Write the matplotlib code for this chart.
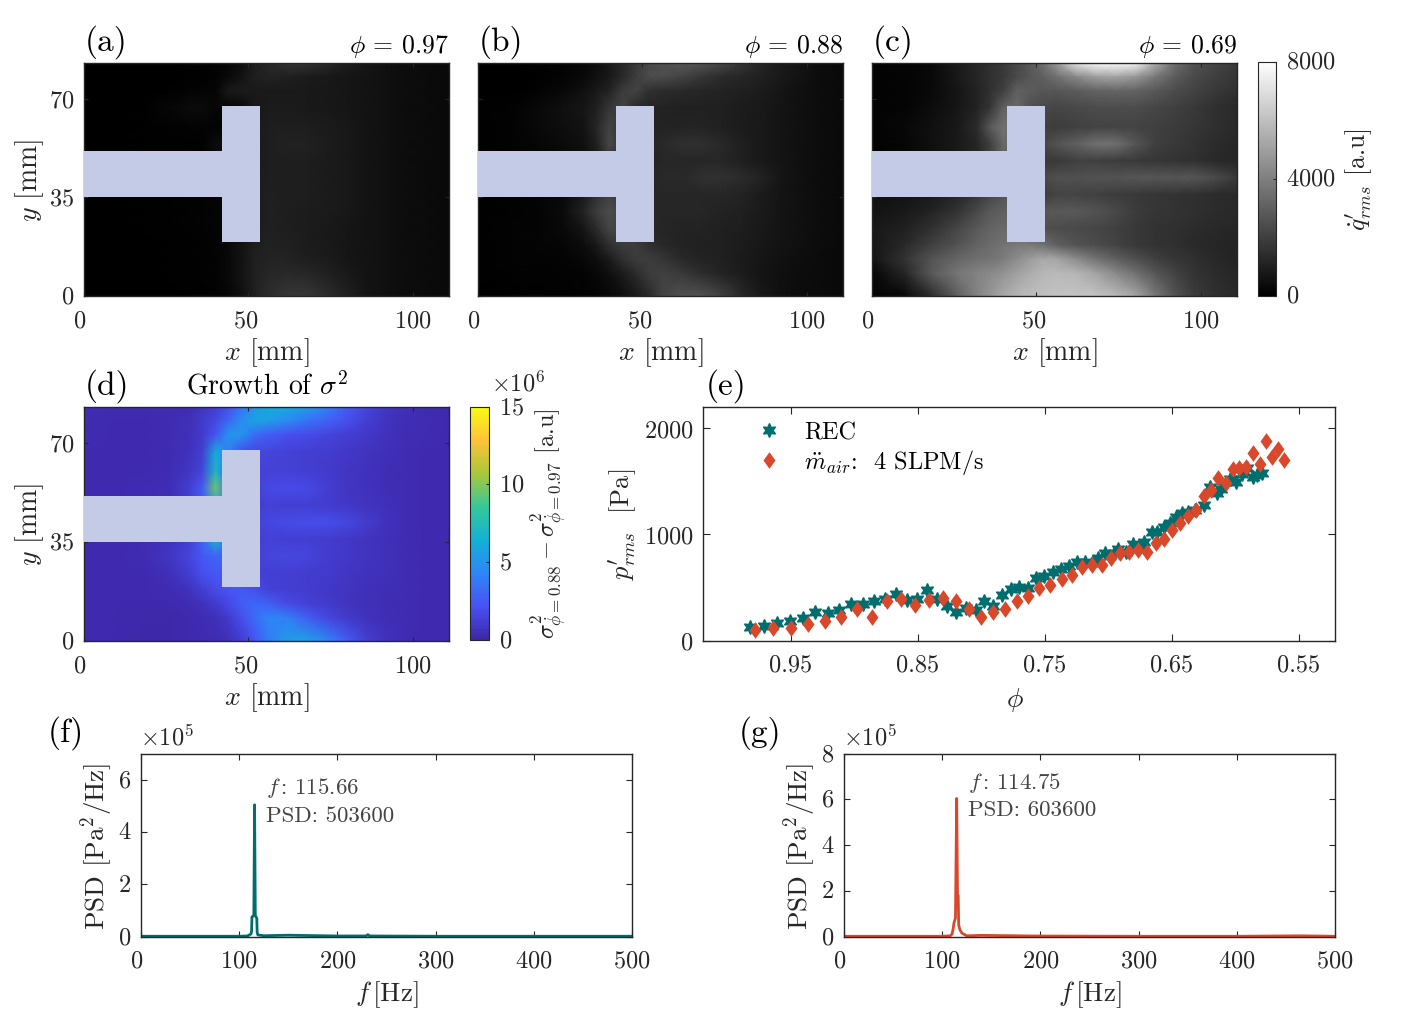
import numpy as np
import matplotlib
matplotlib.use('Agg')
import matplotlib.pyplot as plt
from matplotlib.colors import LinearSegmentedColormap
from matplotlib.patches import Rectangle
from matplotlib.path import Path
from matplotlib.transforms import ScaledTranslation

plt.rcParams['font.family'] = ['cmr10', 'DejaVu Serif']
plt.rcParams['mathtext.fontset'] = 'cm'
plt.rcParams['axes.formatter.use_mathtext'] = True
plt.rcParams['axes.unicode_minus'] = False

W, H = 1406, 1020
DARK = '#262626'
TEAL = '#006d6f'
RED = '#d9482b'
BLOCK = '#c3cbe6'
FS = 17.5

# grid of the maps in mm
grid_x = [0, 10, 18, 26, 32, 36, 40, 44, 48, 52, 56, 62, 68, 74, 80, 86, 92, 98, 104, 111]
grid_y = [83, 78, 73, 67, 60, 54, 48, 42, 36, 30, 24, 18, 13, 8, 0]

q_a = [
    [20, 20, 20, 30, 40, 60, 80, 200, 400, 900, 1200, 1600, 1600, 1300, 900, 700, 500, 400, 350, 300],
    [20, 20, 20, 30, 40, 60, 100, 300, 600, 1000, 1100, 1000, 900, 800, 700, 600, 500, 400, 350, 300],
    [20, 20, 30, 50, 100, 150, 200, 800, 900, 800, 800, 800, 800, 750, 700, 600, 500, 400, 350, 300],
    [20, 30, 50, 200, 350, 350, 200, 200, 300, 800, 850, 850, 800, 750, 700, 600, 500, 400, 350, 300],
    [20, 30, 50, 80, 100, 100, 120, 200, 400, 850, 950, 950, 950, 850, 750, 600, 500, 400, 350, 300],
    [20, 30, 40, 50, 60, 80, 400, 500, 600, 850, 950, 1050, 1050, 900, 750, 600, 500, 400, 350, 300],
    [20, 30, 40, 50, 60, 80, 200, 400, 600, 850, 950, 950, 950, 850, 750, 600, 500, 400, 350, 300],
    [20, 30, 40, 50, 60, 80, 200, 400, 600, 900, 950, 950, 950, 850, 750, 600, 500, 400, 350, 300],
    [30, 30, 40, 50, 80, 100, 150, 300, 600, 900, 1000, 950, 950, 850, 750, 600, 500, 400, 350, 300],
    [30, 30, 40, 50, 80, 100, 150, 300, 600, 900, 1000, 950, 900, 850, 750, 600, 500, 400, 350, 300],
    [30, 30, 40, 50, 80, 100, 150, 300, 600, 900, 1000, 950, 900, 800, 700, 600, 500, 400, 350, 300],
    [30, 30, 30, 40, 60, 80, 150, 300, 600, 950, 1050, 1000, 900, 800, 700, 600, 500, 400, 350, 300],
    [30, 30, 30, 40, 50, 80, 120, 300, 600, 1000, 1100, 1100, 950, 850, 700, 600, 500, 400, 350, 300],
    [30, 30, 30, 40, 50, 80, 120, 300, 650, 1000, 1200, 1300, 1200, 1000, 800, 600, 500, 400, 350, 300],
    [30, 30, 30, 30, 40, 60, 100, 200, 500, 1000, 1400, 1700, 1700, 1400, 1000, 650, 500, 400, 350, 300],
]
q_b = [
    [0, 0, 50, 100, 200, 400, 800, 1200, 1800, 2300, 2500, 2800, 2700, 2300, 1700, 1200, 800, 600, 400, 300],
    [0, 0, 60, 150, 300, 500, 800, 1300, 1900, 2400, 2400, 2100, 1700, 1400, 1200, 1000, 800, 600, 400, 300],
    [0, 30, 100, 250, 500, 800, 1100, 1900, 2100, 1500, 1400, 1300, 1200, 1100, 1000, 900, 700, 500, 400, 300],
    [50, 80, 250, 500, 700, 1000, 1700, 2100, 1300, 1100, 1100, 1000, 1000, 1000, 900, 800, 650, 500, 400, 300],
    [50, 100, 300, 450, 600, 1200, 2100, 1500, 1200, 1100, 1100, 1100, 1100, 1000, 900, 800, 650, 500, 400, 300],
    [50, 100, 200, 350, 500, 1000, 2300, 1500, 1300, 1200, 1300, 1500, 1500, 1300, 1000, 800, 650, 500, 400, 300],
    [50, 80, 150, 250, 400, 800, 1500, 1400, 1200, 1100, 1200, 1200, 1200, 1200, 1000, 800, 650, 500, 400, 300],
    [50, 80, 150, 250, 400, 700, 1300, 1400, 1200, 1200, 1300, 1300, 1500, 1500, 1400, 1100, 700, 500, 400, 300],
    [50, 80, 150, 300, 800, 1500, 2000, 1800, 1300, 1200, 1200, 1200, 1200, 1200, 1100, 850, 650, 500, 400, 300],
    [50, 80, 150, 350, 1100, 1900, 2400, 2000, 1500, 1200, 1200, 1200, 1200, 1100, 1000, 850, 650, 500, 400, 300],
    [50, 100, 150, 300, 700, 1400, 2200, 2100, 1700, 1200, 1200, 1100, 1100, 1000, 950, 800, 650, 500, 400, 300],
    [60, 100, 150, 200, 400, 800, 1500, 1900, 1900, 1500, 1300, 1100, 1000, 1000, 900, 750, 600, 500, 400, 300],
    [60, 100, 100, 150, 250, 450, 900, 1500, 1900, 1900, 1700, 1300, 1100, 1000, 850, 700, 550, 450, 350, 300],
    [50, 80, 80, 100, 150, 250, 500, 900, 1400, 1900, 2000, 1800, 1400, 1100, 900, 650, 500, 400, 350, 300],
    [30, 50, 50, 60, 80, 150, 250, 450, 800, 1300, 2100, 2500, 2500, 2000, 1300, 800, 500, 400, 350, 300],
]
q_c = [
    [100, 130, 250, 800, 1200, 1500, 1800, 2300, 2800, 3500, 4800, 7200, 8000, 8000, 7800, 5500, 3500, 2600, 2200, 1800],
    [100, 130, 300, 800, 1200, 1500, 1800, 2300, 2700, 3000, 3500, 4300, 5000, 5200, 4800, 3800, 2900, 2300, 2000, 1700],
    [100, 130, 300, 700, 1100, 1500, 2000, 3000, 2900, 2700, 2700, 2900, 3100, 3200, 3100, 2800, 2400, 2100, 1800, 1500],
    [100, 150, 400, 700, 1100, 1700, 3000, 3300, 2500, 2300, 2200, 2300, 2400, 2400, 2400, 2200, 2000, 1800, 1500, 1300],
    [100, 250, 500, 800, 1400, 2800, 3600, 3000, 2500, 2000, 1900, 2000, 2100, 2100, 2100, 2000, 1900, 1700, 1500, 1300],
    [100, 200, 500, 800, 1200, 2000, 3300, 3000, 2300, 2200, 2600, 3000, 3500, 3500, 2700, 2000, 1800, 1600, 1400, 1200],
    [100, 200, 500, 800, 1200, 2000, 3000, 2800, 2000, 1800, 1800, 2000, 2000, 1900, 1800, 1700, 1600, 1500, 1300, 1200],
    [500, 500, 600, 800, 1000, 1300, 1800, 2000, 2200, 2300, 2500, 2500, 2600, 2600, 2700, 2700, 2700, 2700, 2400, 1800],
    [500, 600, 800, 1200, 1700, 2200, 2600, 2800, 2400, 1900, 2100, 2100, 2000, 1900, 1800, 1700, 1600, 1500, 1400, 1300],
    [600, 800, 1100, 1600, 2300, 2800, 3000, 3000, 2800, 2700, 2800, 2800, 2600, 2300, 1900, 1700, 1600, 1500, 1400, 1300],
    [800, 1000, 1500, 2200, 2800, 3100, 3300, 3300, 3000, 2500, 2400, 2300, 2200, 2000, 1800, 1600, 1500, 1400, 1300, 1200],
    [700, 1300, 2000, 2600, 3100, 3400, 3600, 3800, 3800, 3500, 3000, 2600, 2400, 2100, 1800, 1600, 1500, 1300, 1200, 1100],
    [600, 1600, 2600, 3200, 3500, 3600, 3900, 4400, 4900, 5300, 5200, 4400, 3600, 3000, 2500, 2000, 1700, 1500, 1300, 1100],
    [200, 1200, 2800, 3700, 4100, 4300, 4600, 5000, 5400, 5700, 5800, 5700, 5100, 4300, 3500, 2700, 2100, 1600, 1400, 1200],
    [100, 300, 1400, 3000, 4100, 4700, 5300, 5700, 5900, 6000, 6100, 6100, 6100, 5800, 5200, 3800, 2600, 1900, 1500, 1300],
]
# growth of sigma^2, in units of 1e6
growth = [
    [.3, .3, .3, .3, .3, .7, 1.2, 2, 3.5, 5, 6, 6, 5.5, 4, 2.5, 1.5, .8, .5, .3, .2],
    [.3, .2, .2, .3, .5, 1, 1.6, 3, 4.6, 5.8, 5.5, 4.5, 3.5, 2.8, 2, 1.2, .7, .4, .3, .2],
    [.3, .2, .2, .3, .5, 1, 2.2, 5, 5, 3.2, 2.6, 2, 1.8, 1.5, 1.2, .9, .6, .3, .3, .2],
    [.2, .2, .2, .3, .6, 1.2, 6, 4, 2, 1.6, 1.5, 1.3, 1.2, 1.1, .9, .7, .5, .3, .2, .2],
    [.2, .2, .2, .3, .8, 1.5, 7, 3, 1.6, 1.4, 1.3, 1.3, 1.2, 1, .8, .6, .4, .3, .2, .2],
    [.2, .2, .3, .4, 1.2, 2.5, 9.5, 3, 1.5, 1.3, 1.7, 1.8, 1.7, 1.2, .8, .6, .4, .3, .2, .2],
    [.2, .2, .3, .4, 1.2, 2.5, 6, 3, 1.2, 1.1, 1.3, 1.2, 1.2, 1.1, .9, .7, .5, .3, .2, .2],
    [.2, .2, .3, .4, 1, 1.5, 3, 2, 1.3, 1.4, 1.6, 1.8, 1.9, 1.9, 1.6, 1.1, .6, .3, .2, .2],
    [.2, .2, .3, .6, 1.2, 2.8, 7, 3, 1.2, 1.2, 1.3, 1.2, 1.2, 1.1, .9, .7, .5, .3, .2, .2],
    [.2, .2, .3, .8, 1.5, 2.4, 3, 2.5, 1.4, 1.3, 1.5, 1.6, 1.5, 1.1, .9, .7, .5, .3, .2, .2],
    [.2, .2, .2, .5, 1.2, 2, 2.4, 2.3, 1.6, 1.3, 1.2, 1.2, 1.1, 1, .8, .6, .5, .3, .2, .2],
    [.2, .2, .2, .3, .6, 1.2, 1.8, 2.2, 2.5, 2, 1.4, 1.2, 1.1, .9, .7, .5, .4, .3, .2, .2],
    [.2, .2, .2, .2, .3, .6, 1, 1.7, 2.6, 3, 2.7, 1.8, 1.3, 1, .7, .5, .4, .3, .2, .2],
    [.2, .2, .1, .1, .2, .3, .5, 1, 2, 3.2, 4.2, 4, 2.6, 1.6, 1, .6, .4, .3, .2, .2],
    [.2, .2, .1, .1, .2, .2, .3, .5, 1.1, 2.2, 3.8, 5.4, 5.6, 4.2, 2.5, 1.2, .6, .3, .2, .2],
]

# panel (e)
phi_rec = [.9825, .9715, .9608, .951, .9408, .9311, .9211, .9119, .9025, .8936, .8849, .876, .8676, .8587,
           .8508, .8429, .835, .8272, .8198, .812, .8046, .7978, .791, .7839, .777, .7702, .7634, .7571,
           .7508, .7437, .7374, .7312, .7251, .7188, .7128, .7081, .7024, .6958, .6927, .6864, .6806, .6762,
           .6717, .6657, .6618, .6565, .6513, .6469, .6421, .6374, .6317, .6251, .6204, .6147, .6115, .6042,
           .5995, .595, .5906, .5866, .5832, .5793]
p_rec = [123, 135, 167, 186, 214, 267, 255, 286, 343, 343, 377, 396, 437, 384,
         387, 475, 393, 330, 267, 308, 292, 374, 330, 428, 484, 509, 494, 588,
         604, 645, 670, 701, 739, 745, 733, 777, 821, 827, 859, 833, 906, 890,
         928, 1025, 1022, 1072, 1104, 1167, 1198, 1214, 1230, 1274, 1450, 1387, 1425, 1519,
         1494, 1566, 1629, 1544, 1557, 1582]
phi_ramp = [.9786, .9639, .95, .9366, .9232, .9106, .898, .8862, .8744, .8634, .8521, .8413, .8303, .8203,
            .8101, .8001, .7909, .7815, .772, .7634, .7547, .7463, .7366, .7288, .7207, .7128, .7052, .6979,
            .6911, .6838, .677, .6696, .6626, .6565, .65, .644, .6374, .6312, .6249, .6196, .6141, .6076,
            .6024, .5971, .5919, .5866, .5811, .5764, .5715, .5662, .5615]
p_ramp = [97, 116, 116, 154, 182, 226, 299, 223, 374, 387, 337, 381, 399, 374,
          296, 220, 270, 299, 377, 418, 494, 519, 582, 620, 695, 714, 714, 774,
          824, 833, 852, 833, 915, 959, 1041, 1104, 1170, 1233, 1365, 1418, 1532, 1488,
          1620, 1629, 1635, 1764, 1661, 1878, 1730, 1808, 1698]

# spectra, PSD in units of 1e5
f_f = [0, 50, 100, 108, 110, 112, 112.6, 113, 114.9, 115.66, 116.4, 117.9, 118.3, 119, 125, 150, 165, 200, 229, 231, 233, 300, 400, 500]
psd_f = [0.01, 0.01, 0.01, 0.02, 0.05, 0.1, 0.2, 0.75, 0.8, 5.036, 0.8, 0.7, 0.15, 0.06, 0.03, 0.05, 0.04, 0.02, 0.02, 0.07, 0.02, 0.01, 0.01, 0.01]
f_g = [0, 50, 100, 108, 110, 111, 112, 113.5, 114.75, 115.6, 116.3, 116.8, 118, 120, 125, 140, 200, 300, 400, 465, 500]
psd_g = [0.01, 0.01, 0.01, 0.03, 0.1, 0.3, 0.6, 0.8, 6.036, 1.8, 1.8, 0.5, 0.3, 0.15, 0.03, 0.05, 0.02, 0.01, 0.01, 0.03, 0.01]

parula_stops = [(0.2422, 0.1504, 0.6603), (0.2810, 0.3228, 0.9579), (0.1786, 0.5289, 0.9682),
                (0.0689, 0.6948, 0.8394), (0.2161, 0.7843, 0.5923), (0.6720, 0.7793, 0.2227),
                (0.9970, 0.7659, 0.2199), (0.9769, 0.9839, 0.0805)]
parula = LinearSegmentedColormap.from_list('parula', parula_stops)


def px_axes(fig, l, t, r, b):
    return fig.add_axes([l / W, 1 - (b + 0.5) / H, (r - l) / W, (b - t) / H])


def style(ax, length=4, xpad=7):
    ax.tick_params(direction='in', top=True, right=True, length=length, width=0.8,
                   color=DARK, labelcolor=DARK, labelsize=FS, pad=7)
    ax.tick_params(axis='x', pad=xpad)
    for s in ax.spines.values():
        s.set_color(DARK)
        s.set_linewidth(1.0)


def shift_labels(labels, fig, dx=None, dy=0):
    for i, lab in enumerate(labels):
        off = ScaledTranslation((dx[i] if dx else 0) / 100, dy / 100, fig.dpi_scale_trans)
        lab.set_transform(lab.get_transform() + off)


def label_px(fig, x, y, s, **kw):
    kw.setdefault('fontsize', 24)
    kw.setdefault('color', 'black')
    fig.text(x / W, 1 - y / H, s, va='center', **kw)


def field(ax, data, cmap, vmin, vmax, block_x=42):
    im = ax.pcolormesh(grid_x, grid_y, np.array(data, dtype=float), cmap=cmap, vmin=vmin, vmax=vmax,
                       shading='gouraud')
    ax.add_patch(Rectangle((0, 35), block_x + 0.5, 16.4, fc=BLOCK, ec='none', zorder=3))
    ax.add_patch(Rectangle((block_x, 19), 11.6, 48.5, fc=BLOCK, ec='none', zorder=3))
    ax.set_xlim(0, 111)
    ax.set_ylim(0, 83)
    ax.set_xticks([0, 50, 100])
    ax.set_yticks([0, 35, 70])
    style(ax, 3, 10)
    shift_labels(ax.get_xticklabels(), ax.figure, dx=[-4, -3, 0])
    shift_labels(ax.get_yticklabels(), ax.figure, dy=1.5)
    ax.set_xlabel(r'$x$ [mm]', fontsize=20, color=DARK, labelpad=3)
    return im


fig = plt.figure(figsize=(W / 100, H / 100), dpi=100)

ax_a = px_axes(fig, 84, 63, 449, 296)
ax_b = px_axes(fig, 478, 63, 843, 296)
ax_c = px_axes(fig, 872, 63, 1237, 296)
ax_d = px_axes(fig, 84, 407, 449, 641)
field(ax_a, q_a, 'gray', 0, 8000)
field(ax_b, q_b, 'gray', 0, 8000)
im_c = field(ax_c, q_c, 'gray', 0, 8000, block_x=41)
ax_b.set_yticklabels([])
ax_c.set_yticklabels([])
ax_a.set_ylabel(r'$y$ [mm]', fontsize=20, color=DARK, labelpad=2)

im_d = field(ax_d, growth, parula, 0, 15)
ax_d.set_ylabel(r'$y$ [mm]', fontsize=20, color=DARK, labelpad=2)

cax1 = px_axes(fig, 1258, 62, 1276, 296)
cb1 = fig.colorbar(im_c, cax=cax1)
cb1.set_ticks([0, 4000, 8000])
cb1.ax.tick_params(direction='in', length=2, width=0.8, color=DARK, labelcolor=DARK, labelsize=FS, pad=7)
cb1.outline.set_edgecolor(DARK)
shift_labels(cb1.ax.get_yticklabels(), fig, dy=2.5)
cb1.set_label(r"$\dot{q}_{rms}^{\prime}$ [a.u]", fontsize=FS + 1, color=DARK, labelpad=6)

cax2 = px_axes(fig, 470, 407, 489, 640)
cb2 = fig.colorbar(im_d, cax=cax2)
cb2.set_ticks([0, 5, 10, 15])
cb2.ax.tick_params(direction='in', length=2, width=0.8, color=DARK, labelcolor=DARK, labelsize=FS, pad=7)
cb2.outline.set_edgecolor(DARK)
shift_labels(cb2.ax.get_yticklabels(), fig, dy=2)
cb2.set_label(r'$\sigma^2_{\dot{\phi}=0.88}-\sigma^2_{\dot{\phi}=0.97}$ [a.u]', fontsize=FS, color=DARK, labelpad=3)

# panel e
ax_e = px_axes(fig, 703, 407, 1335, 641)
diamond = Path([(0, 1), (0.72, 0), (0, -1), (-0.72, 0), (0, 1)], closed=True)
ax_e.plot(phi_rec, p_rec, ls='none', marker=(6, 1, 0), ms=10, color=TEAL, mec=TEAL, label='REC')
ax_e.plot(phi_ramp, p_ramp, ls='none', marker=diamond, ms=12, color=RED, mec='none',
          label=r'$\ddot{m}_{air}$:  4 SLPM/s')
ax_e.set_xlim(1.0193, 0.5217)
ax_e.set_ylim(0, 2207)
ax_e.set_xticks([0.95, 0.85, 0.75, 0.65, 0.55])
ax_e.set_xticklabels(['0.95', '0.85', '0.75', '0.65', '0.55'])
ax_e.set_yticks([0, 1000, 2000])
style(ax_e, 5, 9)
shift_labels(ax_e.get_yticklabels(), fig, dy=1)
ax_e.set_xlabel(r'$\phi$', fontsize=20, color=DARK, labelpad=7, x=0.494)
ax_e.set_ylabel(r"${p}_{rms}^{\prime}$  [Pa]", fontsize=19, color=DARK, labelpad=3)
ax_e.legend(loc='upper left', bbox_to_anchor=(0.041, 1.03), frameon=False, fontsize=FS, handletextpad=0.7,
            labelspacing=0.15, numpoints=1, handlelength=1.5)

# panels f, g
ax_f = px_axes(fig, 141, 754, 632, 937)
ax_g = px_axes(fig, 844, 754, 1335, 937)
spectra = [(ax_f, f_f, psd_f, TEAL, 7, [0, 2, 4, 6], 5.7, 4.63, r'$f\,$: 115.66', 'PSD: 503600', 127),
           (ax_g, f_g, psd_g, RED, 8, [0, 2, 4, 6, 8], 6.77, 5.55, r'$f\,$: 114.75', 'PSD: 603600', 126)]
for ax, fr, psd, col, top, yt, y1, y2, s1, s2, xt in spectra:
    ax.plot(fr, psd, color=col, lw=2.0)
    ax.set_xlim(0, 500)
    ax.set_ylim(0, top)
    ax.set_xticks([0, 100, 200, 300, 400, 500])
    ax.set_yticks(yt)
    style(ax, 4, 9)
    shift_labels(ax.get_xticklabels(), fig, dx=[-4, 0, 0, 0, 0, 0])
    shift_labels(ax.get_yticklabels(), fig, dy=2)
    ax.set_xlabel(r'$f\,$[Hz]', fontsize=19.5, color=DARK, labelpad=5)
    ax.set_ylabel(r'PSD [Pa$^2$/Hz]', fontsize=19.5, color=DARK, labelpad=2)
    ax.text(xt, y1, s1, fontsize=FS - 1, color='#444444', va='center')
    ax.text(xt, y2, s2, fontsize=FS - 1, color='#444444', va='center')

# titles and panel letters
label_px(fig, 85, 42, '(a)')
label_px(fig, 479, 42, '(b)')
label_px(fig, 873, 42, '(c)')
label_px(fig, 85, 386, '(d)')
label_px(fig, 706, 386, '(e)')
label_px(fig, 48, 733, '(f)')
label_px(fig, 739, 733, '(g)')
label_px(fig, 449, 47, r'$\phi$ = 0.97', ha='right', fontsize=18.5)
label_px(fig, 843, 47, r'$\phi$ = 0.88', ha='right', fontsize=18.5)
label_px(fig, 1237, 47, r'$\phi$ = 0.69', ha='right', fontsize=18.5)
label_px(fig, 267, 386, r'Growth of $\sigma^2$', ha='center', fontsize=20)
label_px(fig, 491, 384, r'$\times 10^6$', fontsize=FS, color=DARK)
label_px(fig, 140, 737, r'$\times 10^5$', fontsize=FS, color=DARK)
label_px(fig, 843, 737, r'$\times 10^5$', fontsize=FS, color=DARK)

fig.savefig('out.png', dpi=100)
